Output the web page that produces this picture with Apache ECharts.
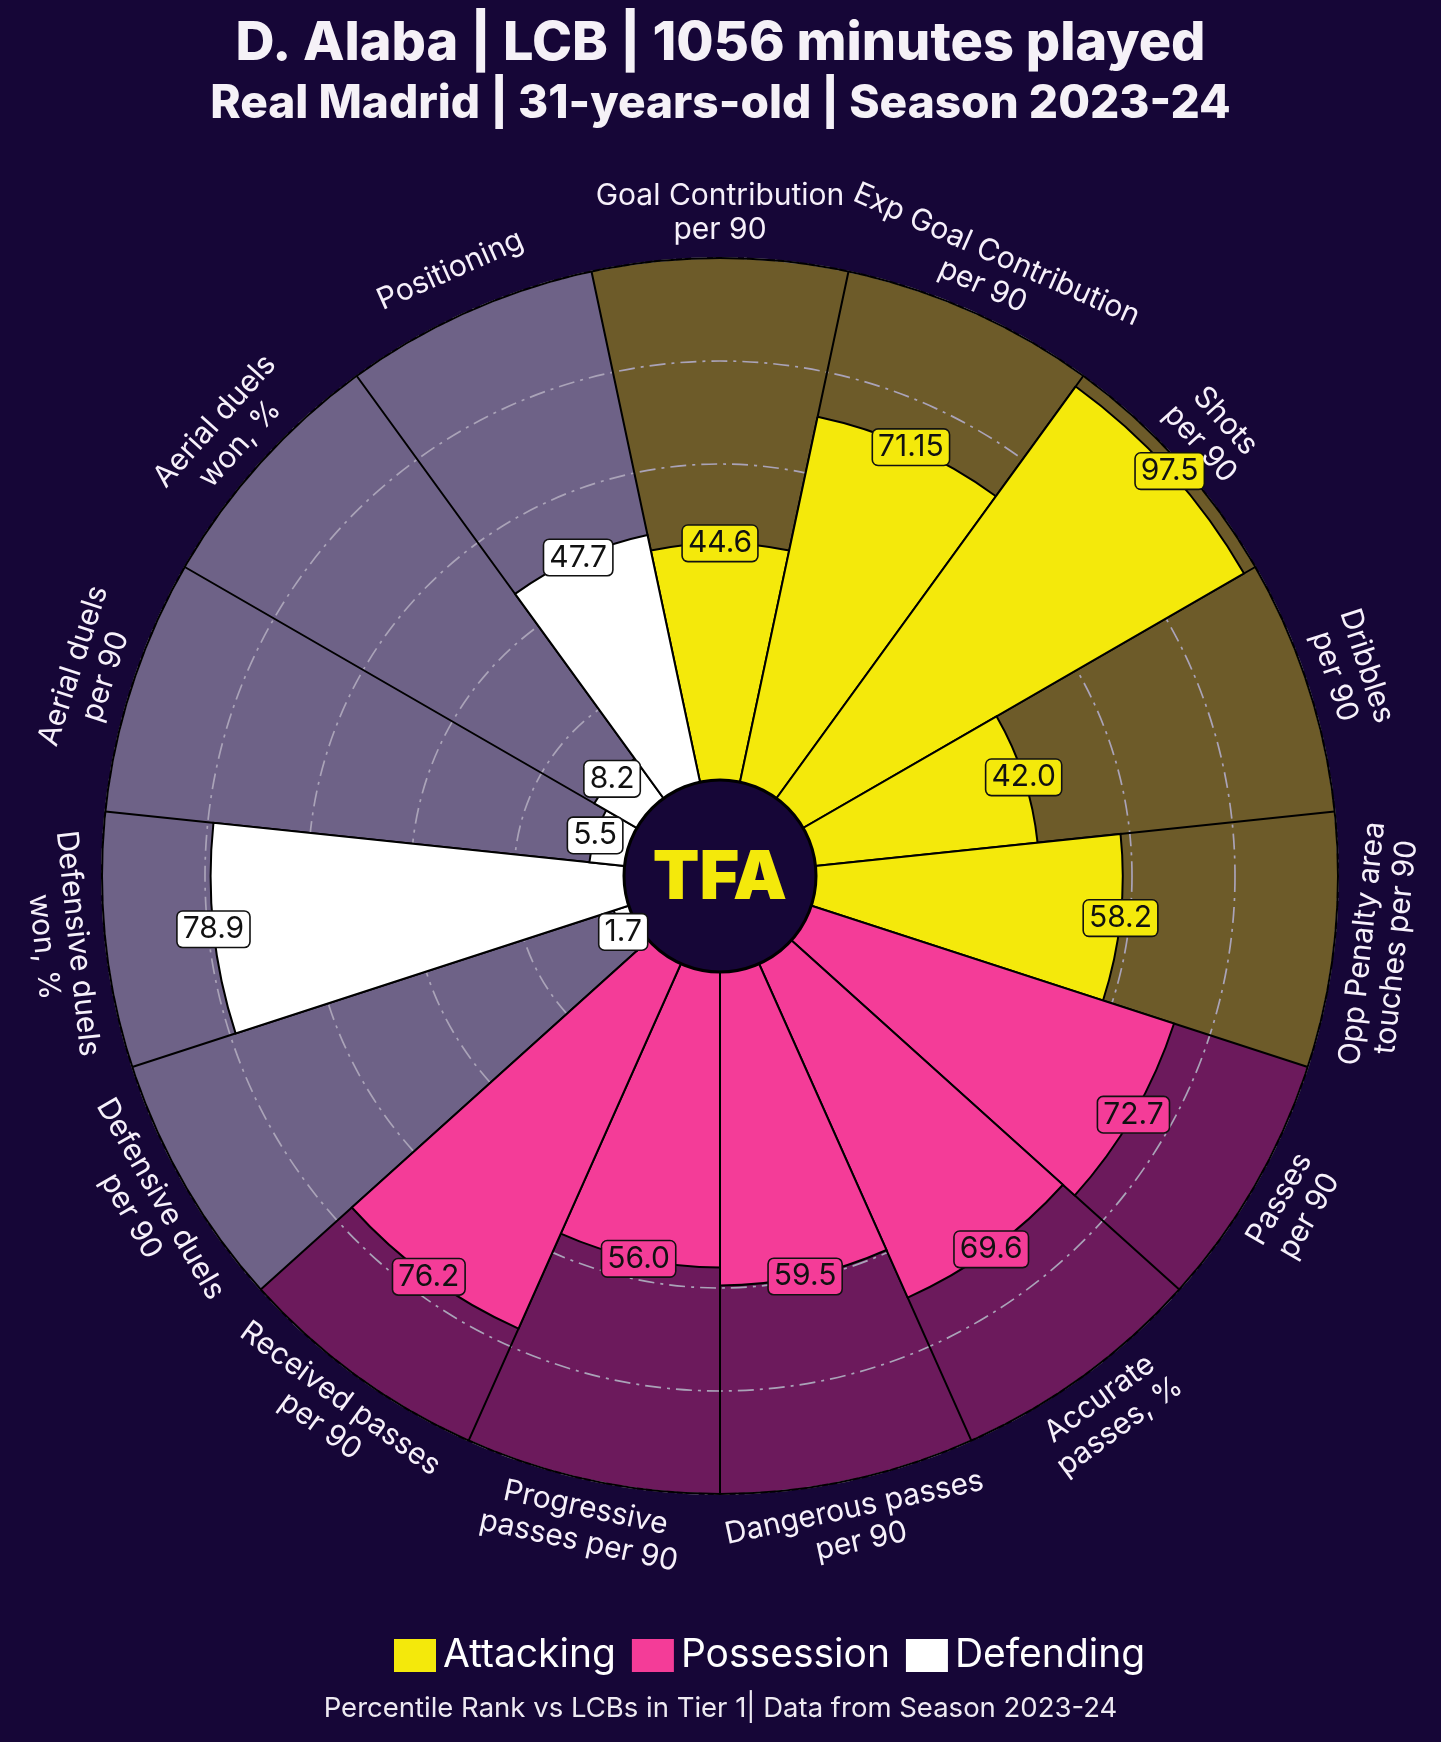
<!DOCTYPE html>
<html><head><meta charset="utf-8">
<script src="https://cdn.jsdelivr.net/npm/echarts@6/dist/echarts.min.js"></script>
<style>html,body{margin:0;padding:0;background:#160637;} #c{width:1441px;height:1742px;}</style>
</head><body><div id="c"></div>
<script>
// ---- data ----
const categories = [
  "Goal Contribution\nper 90", "Exp Goal Contribution\nper 90", "Shots\nper 90", "Dribbles\nper 90",
  "Opp Penalty area\ntouches per 90", "Passes\nper 90", "Accurate\npasses, %", "Dangerous passes\nper 90",
  "Progressive\npasses per 90", "Received passes\nper 90", "Defensive duels\nper 90", "Defensive duels\nwon, %",
  "Aerial duels\nper 90", "Aerial duels\nwon, %", "Positioning"
];
const values = [44.6, 71.15, 97.5, 42.0, 58.2, 72.7, 69.6, 59.5, 56.0, 76.2, 1.7, 78.9, 5.5, 8.2, 47.7];
const groups = ["Attacking","Attacking","Attacking","Attacking","Attacking",
  "Possession","Possession","Possession","Possession","Possession",
  "Defending","Defending","Defending","Defending","Defending"];
const groupNames = ["Attacking", "Possession", "Defending"];
const radiusTicks = {min: -20, max: 100, interval: 20};

// ---- style ----
const BG = '#160637';
const FONT = 'Inter';
const barColors = {Attacking: '#f4e90b', Possession: '#f43c98', Defending: '#ffffff'};
const bgColors = {Attacking: '#6d5b29', Possession: '#6c1a5c', Defending: '#6e6287'};
const CENTER = [720, 876], R = 618, LABEL_R = 663;
const N = categories.length, STEP = 360 / N, START = 90 + STEP / 2;

function fmt(v) { return Math.abs(v * 10 - Math.round(v * 10)) < 1e-9 ? v.toFixed(1) : v.toFixed(2); }
function labelRot(i) {
  let a = 90 - STEP * i;
  a = (((a + 180) % 360) + 360) % 360 - 180;
  return (a > 0 && a < 180) ? a - 90 : a + 90;
}

const chart = echarts.init(document.getElementById('c'), null, {renderer: 'canvas'});

const barSeries = groupNames.map(g => ({
  name: g, type: 'bar', coordinateSystem: 'polar', polarIndex: 0, z: 4,
  barGap: '-100%', barCategoryGap: '0%', silent: true,
  itemStyle: {color: barColors[g], borderColor: '#000', borderWidth: 2},
  data: values.map((v, i) => groups[i] === g ? v : '-')
}));

const option = {
  backgroundColor: BG,
  animation: false,
  title: [
    {text: 'D. Alaba | LCB | 1056 minutes played', left: 'center', top: 12,
     textStyle: {color: '#f5f1f7', fontSize: 54, fontWeight: 800, fontFamily: FONT}},
    {text: 'Real Madrid | 31-years-old | Season 2023-24', left: 'center', top: 76,
     textStyle: {color: '#f5f1f7', fontSize: 46, fontWeight: 800, fontFamily: FONT}},
    {text: 'Percentile Rank vs LCBs in Tier 1| Data from Season 2023-24', left: 'center', top: 1690,
     textStyle: {color: '#eeeaf2', fontSize: 27.5, fontWeight: 'normal', fontFamily: FONT}}
  ],
  legend: {
    data: groupNames, left: 394, top: 1636, icon: 'rect', itemWidth: 42, itemHeight: 33, itemGap: 16,
    selectedMode: false, itemStyle: {borderWidth: 0}, padding: 0,
    textStyle: {color: '#ffffff', fontSize: 39, fontFamily: FONT, padding: [0, 0, 0, 2]}
  },
  polar: [
    {center: CENTER, radius: [0, R]},
    {center: CENTER, radius: [0, LABEL_R]},
    {center: CENTER, radius: [0, R]}
  ],
  angleAxis: [
    {polarIndex: 0, type: 'category', data: categories, startAngle: START, clockwise: true, boundaryGap: true, z: 1,
     axisLine: {show: false}, axisTick: {show: false}, axisLabel: {show: false}, splitLine: {show: false},
     splitArea: {show: true, areaStyle: {color: groups.map(g => bgColors[g]), opacity: 1}}},
    {polarIndex: 1, type: 'category', data: categories, startAngle: START, clockwise: true, boundaryGap: true, show: false},
    {polarIndex: 2, type: 'category', data: categories, startAngle: START, clockwise: true, boundaryGap: true, z: 3,
     axisLine: {show: true, lineStyle: {color: '#000', width: 2}}, axisTick: {show: false}, axisLabel: {show: false},
     splitLine: {show: true, lineStyle: {color: '#000', width: 2}}, splitArea: {show: false}}
  ],
  radiusAxis: [
    {polarIndex: 0, type: 'value', min: radiusTicks.min, max: radiusTicks.max, interval: radiusTicks.interval,
     startValue: radiusTicks.min, z: 2,
     axisLine: {show: false}, axisTick: {show: false}, axisLabel: {show: false},
     splitLine: {show: true, showMinLine: false, showMaxLine: false,
       lineStyle: {color: '#aaa3b8', width: 1.7, type: [16, 6, 3, 6]}}},
    {polarIndex: 1, type: 'value', min: 0, max: 1, show: false},
    {polarIndex: 2, type: 'value', min: 0, max: 1, show: false}
  ],
  graphic: [
    {type: 'circle', shape: {cx: CENTER[0], cy: CENTER[1], r: 96}, z: 5, silent: true,
     style: {fill: BG, stroke: '#000', lineWidth: 3}},
    {type: 'text', x: CENTER[0], y: CENTER[1] + 3, z: 5, silent: true,
     style: {text: 'TFA', fill: '#f4e90b', font: '900 68px Inter', align: 'center', verticalAlign: 'middle',
             textAlign: 'center', textVerticalAlign: 'middle'}}
  ],
  series: barSeries.concat([
    {type: 'scatter', coordinateSystem: 'polar', polarIndex: 0, z: 6, clip: false, silent: true,
     symbolSize: 1, itemStyle: {color: 'rgba(0,0,0,0)', opacity: 1},
     data: values.map((v, i) => ({value: [v, i], label: {backgroundColor: barColors[groups[i]]}})),
     label: {show: true, position: 'inside', formatter: p => fmt(p.value[0]), opacity: 1,
       color: '#111', fontSize: 30, fontFamily: FONT, borderColor: '#111', borderWidth: 1.6,
       borderRadius: 5, padding: [4, 5, 1, 5]}},
    {type: 'scatter', coordinateSystem: 'polar', polarIndex: 1, z: 6, clip: false, silent: true,
     symbolSize: 1, itemStyle: {color: 'rgba(0,0,0,0)', opacity: 1},
     data: categories.map((c, i) => ({value: [1, i], label: {rotate: labelRot(i)}})),
     label: {show: true, position: 'inside', formatter: p => categories[p.dataIndex], opacity: 1,
       color: '#f6f0fa', fontSize: 30, lineHeight: 34, fontFamily: FONT, align: 'center'}}
  ])
};
chart.setOption(option);
</script>
</body></html>
